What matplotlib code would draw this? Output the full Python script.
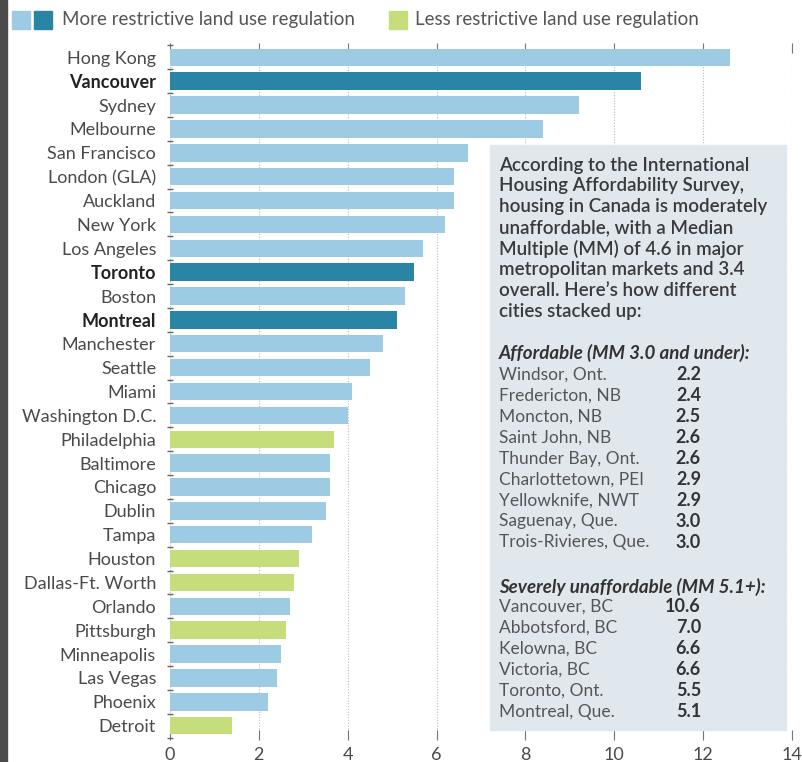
import numpy as np
import matplotlib
matplotlib.use("Agg")
import matplotlib.pyplot as plt
from matplotlib.patches import Rectangle

plt.rcParams['font.family'] = ['Lato', 'DejaVu Sans']

# ---- data ----
cities = ["Hong Kong", "Vancouver", "Sydney", "Melbourne", "San Francisco",
          "London (GLA)", "Auckland", "New York", "Los Angeles", "Toronto",
          "Boston", "Montreal", "Manchester", "Seattle", "Miami",
          "Washington D.C.", "Philadelphia", "Baltimore", "Chicago", "Dublin",
          "Tampa", "Houston", "Dallas-Ft. Worth", "Orlando", "Pittsburgh",
          "Minneapolis", "Las Vegas", "Phoenix", "Detroit"]
values = [12.6, 10.6, 9.2, 8.4, 6.7, 6.4, 6.4, 6.2, 5.7, 5.5, 5.3, 5.1, 4.8,
          4.5, 4.1, 4.0, 3.7, 3.6, 3.6, 3.5, 3.2, 2.9, 2.8, 2.7, 2.6, 2.5,
          2.4, 2.2, 1.4]
# m = more restrictive, c = Canadian (more restrictive, highlighted), l = less restrictive
groups = ["m", "c", "m", "m", "m", "m", "m", "m", "m", "c", "m", "c", "m",
          "m", "m", "m", "l", "m", "m", "m", "m", "l", "l", "m", "l", "m",
          "m", "m", "l"]

intro_lines = ["According to the International",
               "Housing Affordability Survey,",
               "housing in Canada is moderately",
               "unaffordable, with a Median",
               "Multiple (MM) of 4.6 in major",
               "metropolitan markets and 3.4",
               "overall. Here\u2019s how different",
               "cities stacked up:"]
afford_names = ["Windsor, Ont.", "Fredericton, NB", "Moncton, NB",
                "Saint John, NB", "Thunder Bay, Ont.", "Charlottetown, PEI",
                "Yellowknife, NWT", "Saguenay, Que.", "Trois-Rivieres, Que."]
afford_vals = [2.2, 2.4, 2.5, 2.6, 2.6, 2.9, 2.9, 3.0, 3.0]
severe_names = ["Vancouver, BC", "Abbotsford, BC", "Kelowna, BC",
                "Victoria, BC", "Toronto, Ont.", "Montreal, Que."]
severe_vals = [10.6, 7.0, 6.6, 6.6, 5.5, 5.1]

colors = {"m": "#9dcbe3", "c": "#2a84a5", "l": "#c6dd7c"}
txt = "#4a4a4a"

W, H = 802, 762
fx = lambda px: px / W
fy = lambda py: 1 - py / H

fig = plt.figure(figsize=(8.02, 7.62), dpi=100)
ax = fig.add_axes([fx(170), fy(740), fx(792) - fx(170), fy(43) - fy(740)])

y = np.arange(len(cities))
ax.barh(y, values, height=0.73, color=[colors[g] for g in groups], zorder=2)
ax.set_xlim(0, 14)
ax.set_ylim(len(cities) - 0.4, -0.6)

ax.set_yticks(y)
ax.set_yticklabels(cities, fontsize=13, color=txt)
for lab, g in zip(ax.get_yticklabels(), groups):
    if g == "c":
        lab.set_fontweight("bold")
        lab.set_color("#222222")
ax.tick_params(axis='y', length=0, pad=10)
ax.set_yticks(np.arange(len(cities) + 1) - 0.5, minor=True)
ax.tick_params(axis='y', which='minor', length=4, direction='inout',
               color='#666666', width=1)

ax.set_xticks(np.arange(0, 15, 2))
ax.tick_params(axis='x', labelsize=13, labelcolor=txt, direction='in',
               length=7, color='#777777', top=True, pad=5)
ax.grid(axis='x', linestyle=(0, (1, 1.5)), color='#bbbbbb', linewidth=0.8, zorder=0)
for s in ax.spines.values():
    s.set_visible(False)

# dark page border at left
fig.add_artist(Rectangle((0, 0), fx(7), 1, transform=fig.transFigure,
                         color="#4b4b4b", zorder=5))

# legend drawn by hand
sq = 18
fig.add_artist(Rectangle((fx(12), fy(29)), fx(sq), fy(11) - fy(29),
                         transform=fig.transFigure, color=colors["m"]))
fig.add_artist(Rectangle((fx(34), fy(29)), fx(sq), fy(11) - fy(29),
                         transform=fig.transFigure, color=colors["c"]))
fig.text(fx(62), fy(20), "More restrictive land use regulation", fontsize=13.5,
         color="#555555", va='center', ha='left')
fig.add_artist(Rectangle((fx(389), fy(29)), fx(sq), fy(11) - fy(29),
                         transform=fig.transFigure, color=colors["l"]))
fig.text(fx(415), fy(20), "Less restrictive land use regulation", fontsize=13.5,
         color="#555555", va='center', ha='left')

# info box
fig.add_artist(Rectangle((fx(490), fy(730)), fx(786) - fx(490), fy(145) - fy(730),
                         transform=fig.transFigure, color="#e0e8ee", zorder=3))
step = 20.9
for i, line in enumerate(intro_lines):
    fig.text(fx(499), fy(165 + step * i), line, fontsize=13.5, color="#3a3a3a",
             fontweight='semibold', va='center', zorder=4)

fig.text(fx(499), fy(353), "Affordable (MM 3.0 and under):", fontsize=13.5,
         color="#333333", fontweight='bold', style='italic', va='center', zorder=4)
for i, (n, v) in enumerate(zip(afford_names, afford_vals)):
    fig.text(fx(499), fy(375 + step * i), n, fontsize=12.5, color="#555555",
             va='center', zorder=4)
    fig.text(fx(701), fy(375 + step * i), f"{v:.1f}", fontsize=13,
             color="#333333", fontweight='bold', va='center', ha='right', zorder=4)

fig.text(fx(499), fy(587), "Severely unaffordable (MM 5.1+):", fontsize=13.5,
         color="#333333", fontweight='bold', style='italic', va='center', zorder=4)
for i, (n, v) in enumerate(zip(severe_names, severe_vals)):
    fig.text(fx(499), fy(607 + step * i), n, fontsize=12.5, color="#555555",
             va='center', zorder=4)
    fig.text(fx(701), fy(607 + step * i), f"{v:.1f}", fontsize=13,
             color="#333333", fontweight='bold', va='center', ha='right', zorder=4)

fig.savefig("out.png", dpi=100)
